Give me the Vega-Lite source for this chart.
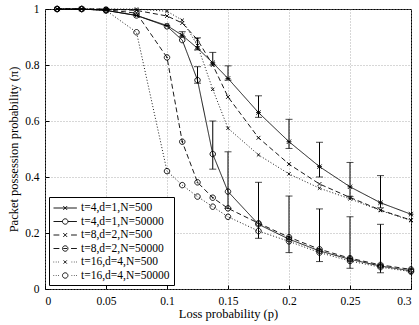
{
  "$schema": "https://vega.github.io/schema/vega-lite/v6.json",
  "width": 366,
  "height": 280,
  "autosize": {"type": "none"},
  "padding": {"left": 45, "top": 9, "right": 8, "bottom": 36},
  "config": {
    "font": "Liberation Serif",
    "view": {"stroke": "black", "strokeWidth": 1},
    "axis": {
      "labelFont": "Liberation Serif", "labelFontSize": 11.5, "labelColor": "black", "labelOverlap": false,
      "titleFont": "Liberation Serif", "titleFontSize": 12.5, "titleFontWeight": "normal", "titleColor": "black",
      "grid": true, "gridColor": "#9a9a9a", "gridDash": [1, 2], "gridWidth": 0.8,
      "domain": false, "tickColor": "black", "tickSize": -4, "labelPadding": 10
    }
  },
  "resolve": {"scale": {"shape": "independent"}},
  "datasets": {
    "series": [
      {"s": "t=4,d=1,N=500", "p": 0.01, "v": 1}, {"s": "t=4,d=1,N=500", "p": 0.03, "v": 1}, {"s": "t=4,d=1,N=500", "p": 0.05, "v": 0.995}, {"s": "t=4,d=1,N=500", "p": 0.075, "v": 0.977}, {"s": "t=4,d=1,N=500", "p": 0.1, "v": 0.941}, {"s": "t=4,d=1,N=500", "p": 0.1125, "v": 0.906}, {"s": "t=4,d=1,N=500", "p": 0.125, "v": 0.86}, {"s": "t=4,d=1,N=500", "p": 0.1375, "v": 0.808}, {"s": "t=4,d=1,N=500", "p": 0.15, "v": 0.752}, {"s": "t=4,d=1,N=500", "p": 0.175, "v": 0.63}, {"s": "t=4,d=1,N=500", "p": 0.2, "v": 0.526}, {"s": "t=4,d=1,N=500", "p": 0.225, "v": 0.437}, {"s": "t=4,d=1,N=500", "p": 0.25, "v": 0.365}, {"s": "t=4,d=1,N=500", "p": 0.275, "v": 0.308}, {"s": "t=4,d=1,N=500", "p": 0.3, "v": 0.267},
      {"s": "t=4,d=1,N=50000", "p": 0.01, "v": 1}, {"s": "t=4,d=1,N=50000", "p": 0.03, "v": 1}, {"s": "t=4,d=1,N=50000", "p": 0.05, "v": 0.995}, {"s": "t=4,d=1,N=50000", "p": 0.075, "v": 0.977}, {"s": "t=4,d=1,N=50000", "p": 0.1, "v": 0.938}, {"s": "t=4,d=1,N=50000", "p": 0.1125, "v": 0.889}, {"s": "t=4,d=1,N=50000", "p": 0.125, "v": 0.746}, {"s": "t=4,d=1,N=50000", "p": 0.1375, "v": 0.482}, {"s": "t=4,d=1,N=50000", "p": 0.15, "v": 0.348}, {"s": "t=4,d=1,N=50000", "p": 0.175, "v": 0.231}, {"s": "t=4,d=1,N=50000", "p": 0.2, "v": 0.178}, {"s": "t=4,d=1,N=50000", "p": 0.225, "v": 0.136}, {"s": "t=4,d=1,N=50000", "p": 0.25, "v": 0.106}, {"s": "t=4,d=1,N=50000", "p": 0.275, "v": 0.082}, {"s": "t=4,d=1,N=50000", "p": 0.3, "v": 0.065},
      {"s": "t=8,d=2,N=500", "p": 0.01, "v": 1}, {"s": "t=8,d=2,N=500", "p": 0.03, "v": 1}, {"s": "t=8,d=2,N=500", "p": 0.05, "v": 1}, {"s": "t=8,d=2,N=500", "p": 0.075, "v": 0.995}, {"s": "t=8,d=2,N=500", "p": 0.1, "v": 0.975}, {"s": "t=8,d=2,N=500", "p": 0.1125, "v": 0.95}, {"s": "t=8,d=2,N=500", "p": 0.125, "v": 0.89}, {"s": "t=8,d=2,N=500", "p": 0.1375, "v": 0.8}, {"s": "t=8,d=2,N=500", "p": 0.15, "v": 0.686}, {"s": "t=8,d=2,N=500", "p": 0.175, "v": 0.54}, {"s": "t=8,d=2,N=500", "p": 0.2, "v": 0.446}, {"s": "t=8,d=2,N=500", "p": 0.225, "v": 0.375}, {"s": "t=8,d=2,N=500", "p": 0.25, "v": 0.327}, {"s": "t=8,d=2,N=500", "p": 0.275, "v": 0.282}, {"s": "t=8,d=2,N=500", "p": 0.3, "v": 0.246},
      {"s": "t=8,d=2,N=50000", "p": 0.01, "v": 1}, {"s": "t=8,d=2,N=50000", "p": 0.03, "v": 1}, {"s": "t=8,d=2,N=50000", "p": 0.05, "v": 0.998}, {"s": "t=8,d=2,N=50000", "p": 0.075, "v": 0.985}, {"s": "t=8,d=2,N=50000", "p": 0.1, "v": 0.827}, {"s": "t=8,d=2,N=50000", "p": 0.1125, "v": 0.526}, {"s": "t=8,d=2,N=50000", "p": 0.125, "v": 0.381}, {"s": "t=8,d=2,N=50000", "p": 0.1375, "v": 0.326}, {"s": "t=8,d=2,N=50000", "p": 0.15, "v": 0.288}, {"s": "t=8,d=2,N=50000", "p": 0.175, "v": 0.235}, {"s": "t=8,d=2,N=50000", "p": 0.2, "v": 0.185}, {"s": "t=8,d=2,N=50000", "p": 0.225, "v": 0.142}, {"s": "t=8,d=2,N=50000", "p": 0.25, "v": 0.11}, {"s": "t=8,d=2,N=50000", "p": 0.275, "v": 0.086}, {"s": "t=8,d=2,N=50000", "p": 0.3, "v": 0.07},
      {"s": "t=16,d=4,N=500", "p": 0.01, "v": 1}, {"s": "t=16,d=4,N=500", "p": 0.03, "v": 1}, {"s": "t=16,d=4,N=500", "p": 0.05, "v": 1}, {"s": "t=16,d=4,N=500", "p": 0.075, "v": 1}, {"s": "t=16,d=4,N=500", "p": 0.1, "v": 0.992}, {"s": "t=16,d=4,N=500", "p": 0.1125, "v": 0.96}, {"s": "t=16,d=4,N=500", "p": 0.125, "v": 0.87}, {"s": "t=16,d=4,N=500", "p": 0.1375, "v": 0.713}, {"s": "t=16,d=4,N=500", "p": 0.15, "v": 0.574}, {"s": "t=16,d=4,N=500", "p": 0.175, "v": 0.479}, {"s": "t=16,d=4,N=500", "p": 0.2, "v": 0.411}, {"s": "t=16,d=4,N=500", "p": 0.225, "v": 0.36}, {"s": "t=16,d=4,N=500", "p": 0.25, "v": 0.322}, {"s": "t=16,d=4,N=500", "p": 0.275, "v": 0.28}, {"s": "t=16,d=4,N=500", "p": 0.3, "v": 0.245},
      {"s": "t=16,d=4,N=50000", "p": 0.01, "v": 1}, {"s": "t=16,d=4,N=50000", "p": 0.03, "v": 1}, {"s": "t=16,d=4,N=50000", "p": 0.05, "v": 0.995}, {"s": "t=16,d=4,N=50000", "p": 0.075, "v": 0.917}, {"s": "t=16,d=4,N=50000", "p": 0.1, "v": 0.421}, {"s": "t=16,d=4,N=50000", "p": 0.1125, "v": 0.371}, {"s": "t=16,d=4,N=50000", "p": 0.125, "v": 0.33}, {"s": "t=16,d=4,N=50000", "p": 0.1375, "v": 0.294}, {"s": "t=16,d=4,N=50000", "p": 0.15, "v": 0.258}, {"s": "t=16,d=4,N=50000", "p": 0.175, "v": 0.207}, {"s": "t=16,d=4,N=50000", "p": 0.2, "v": 0.17}, {"s": "t=16,d=4,N=50000", "p": 0.225, "v": 0.13}, {"s": "t=16,d=4,N=50000", "p": 0.25, "v": 0.1}, {"s": "t=16,d=4,N=50000", "p": 0.275, "v": 0.078}, {"s": "t=16,d=4,N=50000", "p": 0.3, "v": 0.062}
    ],
    "errs": [
      {"p": 0.1125, "lo": 0.901, "hi": 0.919}, {"p": 0.125, "lo": 0.854, "hi": 0.897}, {"p": 0.1375, "lo": 0.8, "hi": 0.845}, {"p": 0.15, "lo": 0.746, "hi": 0.797}, {"p": 0.175, "lo": 0.613, "hi": 0.69}, {"p": 0.2, "lo": 0.502, "hi": 0.606}, {"p": 0.225, "lo": 0.4, "hi": 0.524}, {"p": 0.25, "lo": 0.33, "hi": 0.452}, {"p": 0.275, "lo": 0.29, "hi": 0.405},
      {"p": 0.125, "lo": 0.735, "hi": 0.794}, {"p": 0.1375, "lo": 0.428, "hi": 0.6}, {"p": 0.15, "lo": 0.288, "hi": 0.49}, {"p": 0.175, "lo": 0.181, "hi": 0.381}, {"p": 0.2, "lo": 0.13, "hi": 0.332}, {"p": 0.225, "lo": 0.098, "hi": 0.286}, {"p": 0.25, "lo": 0.074, "hi": 0.258}, {"p": 0.275, "lo": 0.058, "hi": 0.231}
    ],
    "none": []
  },
  "layer": [
    {
      "data": {"name": "series"},
      "mark": {"type": "line", "color": "black", "strokeWidth": 0.9},
      "encoding": {
        "x": {"field": "p", "type": "quantitative", "scale": {"domain": [0, 0.3], "nice": false},
              "axis": {"values": [0, 0.05, 0.1, 0.15, 0.2, 0.25, 0.3], "format": "~g", "title": "Loss probability (p)", "titlePadding": 1}},
        "y": {"field": "v", "type": "quantitative", "scale": {"domain": [0, 1], "nice": false},
              "axis": {"values": [0, 0.1, 0.2, 0.3, 0.4, 0.5, 0.6, 0.7, 0.8, 0.9, 1], "format": "~g", "title": "Packet possession probability (π)", "titlePadding": 4}},
        "strokeDash": {"field": "s", "type": "nominal", "legend": null,
          "scale": {"domain": ["t=16,d=4,N=50000", "t=16,d=4,N=500", "t=8,d=2,N=50000", "t=8,d=2,N=500", "t=4,d=1,N=50000", "t=4,d=1,N=500"],
                    "range": [[1, 2], [1, 2], [5, 3], [5, 3], [1, 0], [1, 0]]}}
      }
    },
    {
      "data": {"name": "errs"},
      "mark": {"type": "rule", "color": "black", "strokeWidth": 1},
      "encoding": {"x": {"field": "p", "type": "quantitative"}, "y": {"field": "lo", "type": "quantitative"}, "y2": {"field": "hi"}}
    },
    {
      "data": {"name": "errs"},
      "mark": {"type": "tick", "color": "black", "orient": "horizontal", "size": 7, "thickness": 1},
      "encoding": {"x": {"field": "p", "type": "quantitative"}, "y": {"field": "lo", "type": "quantitative"}}
    },
    {
      "data": {"name": "errs"},
      "mark": {"type": "tick", "color": "black", "orient": "horizontal", "size": 7, "thickness": 1},
      "encoding": {"x": {"field": "p", "type": "quantitative"}, "y": {"field": "hi", "type": "quantitative"}}
    },
    {
      "data": {"name": "series"},
      "mark": {"type": "point", "filled": false, "color": "black", "strokeWidth": 0.9, "size": 30, "opacity": 1},
      "encoding": {
        "x": {"field": "p", "type": "quantitative"},
        "y": {"field": "v", "type": "quantitative"},
        "shape": {"field": "s", "type": "nominal", "legend": null,
          "scale": {"domain": ["t=16,d=4,N=50000", "t=16,d=4,N=500", "t=8,d=2,N=50000", "t=8,d=2,N=500", "t=4,d=1,N=50000", "t=4,d=1,N=500"],
                    "range": ["M-1,0A1,1 0 1,0 1,0A1,1 0 1,0 -1,0", "M-0.6,-0.6L0.6,0.6M-0.6,0.6L0.6,-0.6", "M-1,0A1,1 0 1,0 1,0A1,1 0 1,0 -1,0M-0.2,0A0.2,0.2 0 1,0 0.2,0A0.2,0.2 0 1,0 -0.2,0", "M-0.7,-0.7L0.7,0.7M-0.7,0.7L0.7,-0.7", "M-1,0A1,1 0 1,0 1,0A1,1 0 1,0 -1,0", "M-0.8,-0.8L0.8,0.8M-0.8,0.8L0.8,-0.8M-0.9,0L0.9,0"]}}
      }
    },
    {
      "data": {"name": "none"},
      "mark": {"type": "point", "filled": false, "color": "black", "strokeWidth": 0.9, "opacity": 1},
      "encoding": {
        "x": {"field": "p", "type": "quantitative"},
        "y": {"field": "v", "type": "quantitative"},
        "shape": {"field": "s", "type": "nominal",
          "scale": {"domain": ["t=4,d=1,N=500", "t=4,d=1,N=50000", "t=8,d=2,N=500", "t=8,d=2,N=50000", "t=16,d=4,N=500", "t=16,d=4,N=50000"],
                    "range": [
                      "M-1,0L2.6,0M0.5,-0.3L1.1,0.3M0.5,0.3L1.1,-0.3",
                      "M-1,0L0.38,0M1.22,0L2.6,0M0.38,0A0.42,0.42 0 1,0 1.22,0A0.42,0.42 0 1,0 0.38,0",
                      "M-1,0L-0.1,0M0.5,-0.3L1.1,0.3M0.5,0.3L1.1,-0.3M1.7,0L2.6,0",
                      "M-1,0L-0.1,0M1.7,0L2.6,0M0.38,0A0.42,0.42 0 1,0 1.22,0A0.42,0.42 0 1,0 0.38,0M0.5,0L1.1,0",
                      "M-1,0L-0.9,0M-0.64,0L-0.54,0M-0.28,0L-0.18,0M1.78,0L1.88,0M2.14,0L2.24,0M2.5,0L2.6,0M0.55,-0.25L1.05,0.25M0.55,0.25L1.05,-0.25",
                      "M-1,0L-0.9,0M-0.64,0L-0.54,0M-0.28,0L-0.18,0M1.78,0L1.88,0M2.14,0L2.24,0M2.5,0L2.6,0M0.38,0A0.42,0.42 0 1,0 1.22,0A0.42,0.42 0 1,0 0.38,0"
                    ]},
          "legend": {
            "title": null, "orient": "bottom-left", "offset": 4, "padding": 4,
            "strokeColor": "black", "fillColor": "white", "cornerRadius": 0,
            "labelFont": "Liberation Serif", "labelFontSize": 11.5, "labelColor": "black",
            "labelOffset": 14, "rowPadding": 0.5, "symbolSize": 169,
            "symbolStrokeColor": "black", "symbolFillColor": "transparent", "symbolStrokeWidth": 0.9, "symbolOpacity": 1
          }
        }
      }
    }
  ]
}
